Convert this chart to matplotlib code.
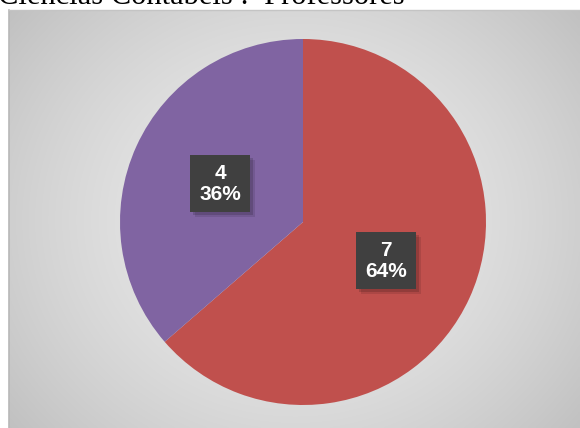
import numpy as np
import matplotlib.pyplot as plt
from matplotlib.patches import Rectangle

# data
labels = ['Professores A', 'Professores B']
values = [7, 4]
colors = ['#c0504d', '#8064a2']
title = 'Ciências Contábeis :  Professores'

W, H = 580, 428
fig = plt.figure(figsize=(W / 100, H / 100), dpi=100)
fig.patch.set_facecolor('white')

# chart area with radial gradient background
bx0, by0 = 9, 10
bg = fig.add_axes([bx0 / W, 0, 1 - bx0 / W, 1 - by0 / H])
yy, xx = np.mgrid[0:200, 0:280]
cx, cy = 140, 100
r = np.sqrt(((xx - cx) / 160) ** 2 + ((yy - cy) / 140) ** 2)
grad = 0.925 - 0.14 * np.clip(r, 0, 1.2) ** 1.6
bg.imshow(np.dstack([grad] * 3), extent=[0, 1, 0, 1], aspect='auto', interpolation='bilinear')
bg.set_axis_off()
fig.add_artist(plt.Line2D([bx0 / W, bx0 / W], [0, 1 - by0 / H], color='#b8b8b8', lw=1.2))
fig.add_artist(plt.Line2D([bx0 / W, 1], [1 - by0 / H, 1 - by0 / H], color='#c4c4c4', lw=1))

# pie
cxp, cyp, rad = 303, 222, 183
ax = fig.add_axes([(cxp - rad) / W, (H - cyp - rad) / H, 2 * rad / W, 2 * rad / H])
ax.pie(values, colors=colors, startangle=90, counterclock=False,
       wedgeprops=dict(linewidth=0))
ax.set_xlim(-1, 1)
ax.set_ylim(-1, 1)
ax.set_aspect('auto')
ax.set_axis_off()

# data labels (dark box with soft shadow)
total = sum(values)
pos = [(386, 260), (220, 183)]
bw, bh = 60, 57
for v, (px, py) in zip(values, pos):
    txt = f'{v}\n{round(100 * v / total)}%'
    for k, a in [(5, 0.10), (3, 0.15)]:
        fig.add_artist(Rectangle(((px - bw / 2 + k) / W, (H - py - bh / 2 - k) / H),
                                 bw / W, bh / H, transform=fig.transFigure,
                                 fc='black', ec='none', alpha=a))
    fig.add_artist(Rectangle(((px - bw / 2) / W, (H - py - bh / 2) / H),
                             bw / W, bh / H, transform=fig.transFigure,
                             fc='#404040', ec='none'))
    fig.text(px / W, 1 - (py + 1) / H, txt, ha='center', va='center',
             fontsize=15, fontweight='bold', color='white', linespacing=1.15,
             family='Liberation Sans')

# title, cut at the top edge
fig.text(-2 / W, 1 - 4 / H, title, ha='left', va='baseline', fontsize=22,
         family='Liberation Serif', color='black')

fig.savefig('out.png', dpi=100)
